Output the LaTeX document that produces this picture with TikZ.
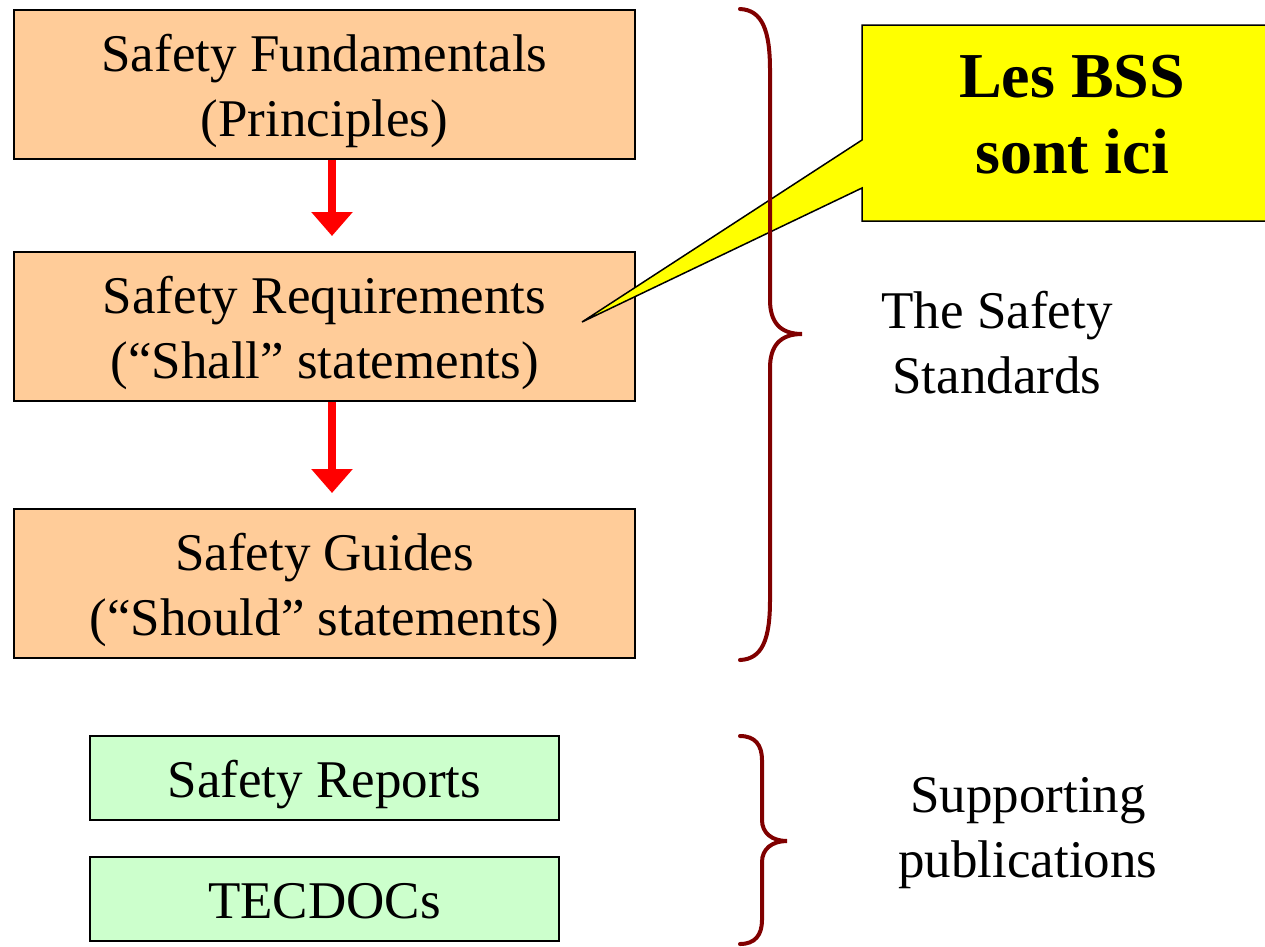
\documentclass[tikz,border=0pt]{standalone}
\usepackage{fontspec}
\setmainfont{Liberation Serif}
\usepackage{tikz}
\usetikzlibrary{positioning,arrows.meta,calc}
\definecolor{peach}{HTML}{FFCC99}
\definecolor{mint}{HTML}{CCFFCC}
\definecolor{bracered}{HTML}{800000}
\definecolor{callout}{HTML}{FFFF00}
\newcommand{\ppstrut}{\rule[-0.216em]{0pt}{1.156em}}

\begin{document}
\begin{tikzpicture}
	[x=1pt,y=-1pt,node distance=93pt,
	txt/.style={align=center,font=\fontsize{53}{65}\selectfont},
	nbox/.style={txt,draw=black,line width=1.5pt,fill=peach,minimum width=621pt,minimum height=149pt,inner sep=0pt,outer sep=0pt},
	gbox/.style={txt,draw=black,line width=1.5pt,fill=mint,minimum width=469pt,minimum height=84pt,inner sep=0pt,outer sep=0pt},
	flecha/.style={-{Triangle[width=40pt,length=24pt]},line width=8pt,red},
	llave/.style={line width=4pt,draw=bracered,line cap=round}]
	\useasboundingbox (0,0) rectangle (1265,946);
	%%%%% STANDARDS
	\node[nbox] (fund) at (324.5,84.5) {\ppstrut Safety Fundamentals\\(Principles)\ppstrut};
	\node[nbox,below=of fund] (req) {\ppstrut Safety Requirements\\(“Shall” statements)\ppstrut};
	\node[nbox,below=108pt of req] (guide) {\ppstrut Safety Guides\\(“Should” statements)\ppstrut};
	\foreach \a/\b in {fund/req,req/guide}
	{
	\draw[flecha] ([xshift=7.5pt,yshift=-1pt]\a.south) -- ([xshift=7.5pt,yshift=16pt]\b.north);
	};
	%%%%% SUPPORTING
	\node[gbox,below=78pt of guide] (reports) {\ppstrut Safety Reports};
	\node[gbox,below=37pt of reports] (tecdocs) {\ppstrut TECDOCs};
	%%%%% CALLOUT
	\coordinate (tip) at ([xshift=-53pt,yshift=4.5pt]req.east);
	\filldraw[fill=callout,draw=black,line width=1.5pt] (862,25) -- (1282,25) -- (1282,221) -- (862,221) -- (862,188) -- (tip) -- (862,140) -- cycle;
	\node[txt,font=\fontsize{64}{76}\selectfont\bfseries] (bss) at (1072,112) {\ppstrut Les BSS\\sont ici\ppstrut};
	%%%%% LABELS
	\node[txt] (std) at (997,342) {\ppstrut The Safety\\Standards\ppstrut};
	\node[txt] (supp) at (1028,826) {\ppstrut Supporting\\publications\ppstrut};
	%%%%% BRACES
	\draw[llave] (740,9) .. controls (762,10) and (770,30) .. (770,70) -- (770,300)
		.. controls (770,322) and (780,334) .. (802,334)
		.. controls (780,334) and (770,346) .. (770,368) -- (770,600)
		.. controls (770,640) and (762,659) .. (740,660);
	\draw[llave] (740,736) .. controls (755,736) and (762,745) .. (762,760) -- (762,820)
		.. controls (762,833) and (772,841) .. (787,841)
		.. controls (772,841) and (762,849) .. (762,862) -- (762,920)
		.. controls (762,935) and (755,944) .. (740,944);
\end{tikzpicture}
\end{document}
